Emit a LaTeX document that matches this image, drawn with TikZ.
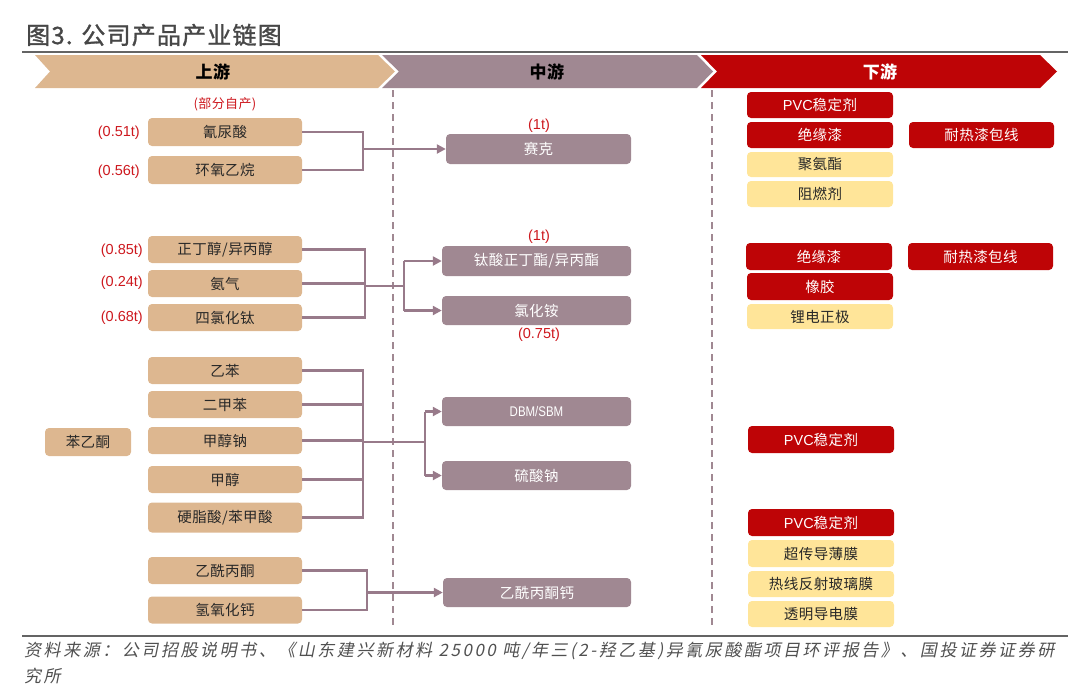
\documentclass[tikz,border=0pt]{standalone}
\usepackage{fontspec}
\setmainfont{Liberation Sans}
\newfontfamily\lib{Liberation Sans}
\newfontfamily\cjk{Noto Sans CJK SC}[LetterSpace=3]
\newfontfamily\cjktitle{Noto Sans CJK SC}[LetterSpace=5,FakeBold=1.2]
\newfontfamily\capfont{Noto Sans CJK SC}[FakeSlant=0.2,LetterSpace=15]
\usetikzlibrary{arrows.meta}
\definecolor{tanc}{RGB}{221,183,144}
\definecolor{mauve}{RGB}{160,136,146}
\definecolor{dred}{RGB}{190,4,6}
\definecolor{yel}{RGB}{255,229,153}
\definecolor{lnc}{RGB}{152,122,138}
\definecolor{lbl}{RGB}{205,24,30}
\definecolor{txt}{RGB}{40,40,40}
\definecolor{rulec}{RGB}{100,100,100}
\definecolor{capc}{RGB}{80,80,80}
\tikzset{
  box/.style={rounded corners=4pt, inner sep=0pt, font=\cjk\fontsize{14.5}{17}\selectfont},
  ubox/.style={box, fill=tanc, text=txt, minimum width=154pt, minimum height=28pt},
  mbox/.style={box, fill=mauve, text=white, minimum width=189pt, minimum height=30pt},
  rbox/.style={box, fill=dred, text=white, minimum width=146pt, minimum height=26pt},
  ybox/.style={box, fill=yel, text=txt, minimum width=146pt, minimum height=26pt},
  qty/.style={text=lbl, font=\lib\fontsize{14.5}{16}\selectfont, inner sep=0pt},
  conn/.style={draw=lnc, line width=2.8pt},
  arr/.style={conn, -{Triangle[length=9pt,width=9pt]}},
  hdr/.style={inner sep=0pt, font=\cjk\bfseries\fontsize{17}{20}\selectfont},
  dashln/.style={draw=mauve, line width=1.5pt, dash pattern=on 7pt off 5pt},
  rulel/.style={draw=rulec, line width=1.5pt},
  captxt/.style={inner sep=0pt, anchor=west, text=capc, font=\capfont\fontsize{17}{20}\selectfont}
}
\begin{document}
\begin{tikzpicture}[x=1pt,y=-1pt]
\useasboundingbox (0,0) rectangle (1080,694);
% title
\node[inner sep=0pt, anchor=west, text=black!72, font=\cjktitle\fontsize{24}{27}\selectfont] (title) at (26,35) {图3. 公司产品产业链图};
\draw[rulel] (22,52) -- (1068,52);
% chevrons
\fill[tanc] (35,55) -- (378,55) -- (395,71.5) -- (378,88) -- (35,88) -- (50,71.5) -- cycle;
\fill[mauve] (382,55) -- (697,55) -- (713,71.5) -- (697,88) -- (382,88) -- (399,71.5) -- cycle;
\fill[dred] (701,55) -- (1040,55) -- (1057,71.5) -- (1040,88) -- (701,88) -- (717,71.5) -- cycle;
\node[hdr, text=black] (h1) at (213,72) {上游};
\node[hdr, text=black] (h2) at (547,72) {中游};
\node[hdr, text=white] (h3) at (880,72) {下游};
% dashed separators
\draw[dashln] (393,90) -- (393,629);
\draw[dashln] (712,90) -- (712,629);
% upstream
\node[text=lbl, inner sep=0pt, font=\cjk\fontsize{13}{15}\selectfont] (self) at (225,104) {(部分自产)};
\node[ubox] (u1) at (225,132) {氰尿酸};
\node[ubox] (u2) at (225,170) {环氧乙烷};
\node[ubox, minimum height=27pt] (u3) at (225,249.5) {正丁醇/异丙醇};
\node[ubox, minimum height=27pt] (u4) at (225,283.5) {氨气};
\node[ubox, minimum height=27pt] (u5) at (225,317.5) {四氯化钛};
\node[ubox, minimum height=27pt] (u6) at (225,370.5) {乙苯};
\node[ubox, minimum height=27pt] (u7) at (225,404.5) {二甲苯};
\node[ubox, minimum height=27pt] (u8) at (225,440.5) {甲醇钠};
\node[ubox, minimum height=27pt] (u9) at (225,479.5) {甲醇};
\node[ubox, minimum height=30pt] (u10) at (225,517.5) {硬脂酸/苯甲酸};
\node[ubox, minimum height=27pt] (u11) at (225,570.5) {乙酰丙酮};
\node[ubox, minimum height=27pt] (u12) at (225,610) {氢氧化钙};
\node[ubox, minimum width=86pt] (u0) at (88,442) {苯乙酮};
\node[qty, anchor=east] (q1) at (140,133) {(0.51t)};
\node[qty, anchor=east] (q2) at (140,172) {(0.56t)};
\node[qty, anchor=east] (q3) at (143,251) {(0.85t)};
\node[qty, anchor=east] (q4) at (143,283) {(0.24t)};
\node[qty, anchor=east] (q5) at (143,318) {(0.68t)};
% midstream
\node[mbox, minimum width=185pt] (m1) at (538.5,149) {赛克};
\node[mbox] (m2) at (536.5,261) {钛酸正丁酯/异丙酯};
\node[mbox, minimum height=29pt] (m3) at (536.5,310.5) {氯化铵};
\node[mbox, minimum height=29pt, font=\lib\fontsize{14}{16}\selectfont] (m4) at (536.5,411.5) {\scalebox{0.82}[1]{DBM/SBM}};
\node[mbox, minimum height=29pt] (m5) at (536.5,475.5) {硫酸钠};
\node[mbox, minimum height=29pt, minimum width=188pt] (m6) at (537,592.5) {乙酰丙酮钙};
\node[qty] (q6) at (539,126) {(1t)};
\node[qty] (q7) at (539,237) {(1t)};
\node[qty] (q8) at (539,335) {(0.75t)};
% downstream
\node[rbox] (d1) at (820,105) {{\lib PVC}稳定剂};
\node[rbox] (d2) at (820,135) {绝缘漆};
\node[rbox, minimum width=145pt] (d3) at (981.5,135) {耐热漆包线};
\node[ybox, minimum height=25pt] (d4) at (820,164.5) {聚氨酯};
\node[ybox] (d5) at (820,194) {阻燃剂};
\node[rbox, minimum height=27pt] (d6) at (819,256.5) {绝缘漆};
\node[rbox, minimum width=145pt, minimum height=27pt] (d7) at (980.5,256.5) {耐热漆包线};
\node[rbox, minimum height=27pt] (d8) at (820,286.5) {橡胶};
\node[ybox, minimum height=25pt] (d9) at (820,316.5) {锂电正极};
\node[rbox, minimum height=27pt] (d10) at (821,439.5) {{\lib PVC}稳定剂};
\node[rbox, minimum height=27pt] (d11) at (821,522.5) {{\lib PVC}稳定剂};
\node[ybox, minimum height=27pt] (d12) at (821,553.5) {超传导薄膜};
\node[ybox] (d13) at (821,584) {热线反射玻璃膜};
\node[ybox] (d14) at (821,614) {透明导电膜};
% connectors group 1
\coordinate (b1) at (363,0);
\draw[conn] (u1.east) -- (u1.east -| b1) -- (u2.east -| b1) -- (u2.east);
\draw[arr] (m1.west -| b1) -- (m1.west);
% group 2
\coordinate (b2) at (365,0);
\coordinate (c2) at (404,0);
\draw[conn] (u3.east) -- (u3.east -| b2) -- (u5.east -| b2) -- (u5.east);
\draw[conn] (u4.east) -- (u4.east -| b2);
\coordinate (j2) at (365,286);
\draw[conn] (j2) -- (j2 -| c2);
\draw[conn] (m2.west -| c2) -- (m3.west -| c2);
\draw[arr] (m2.west -| c2) -- (m2.west);
\draw[arr] (m3.west -| c2) -- (m3.west);
% group 3
\coordinate (b3) at (363,0);
\coordinate (c3) at (425,0);
\draw[conn] (u6.east) -- (u6.east -| b3) -- (u10.east -| b3) -- (u10.east);
\draw[conn] (u7.east) -- (u7.east -| b3);
\draw[conn] (u8.east) -- (u8.east -| b3);
\draw[conn] (u9.east) -- (u9.east -| b3);
\coordinate (j3) at (363,442);
\draw[conn] (j3) -- (j3 -| c3);
\draw[conn] (m4.west -| c3) -- (m5.west -| c3);
\draw[arr] (m4.west -| c3) -- (m4.west);
\draw[arr] (m5.west -| c3) -- (m5.west);
% group 4
\coordinate (b4) at (367,0);
\draw[conn] (u11.east) -- (u11.east -| b4) -- (u12.east -| b4) -- (u12.east);
\draw[arr] (m6.west -| b4) -- (m6.west);
% bottom
\draw[rulel] (22,636) -- (1068,636);
\node[captxt] (cap1) at (24,651) {资料来源：公司招股说明书、《山东建兴新材料 25000 吨/年三(2-羟乙基)异氰尿酸酯项目环评报告》、国投证券证券研};
\node[captxt] (cap2) at (24,676) {究所};
\end{tikzpicture}
\end{document}
